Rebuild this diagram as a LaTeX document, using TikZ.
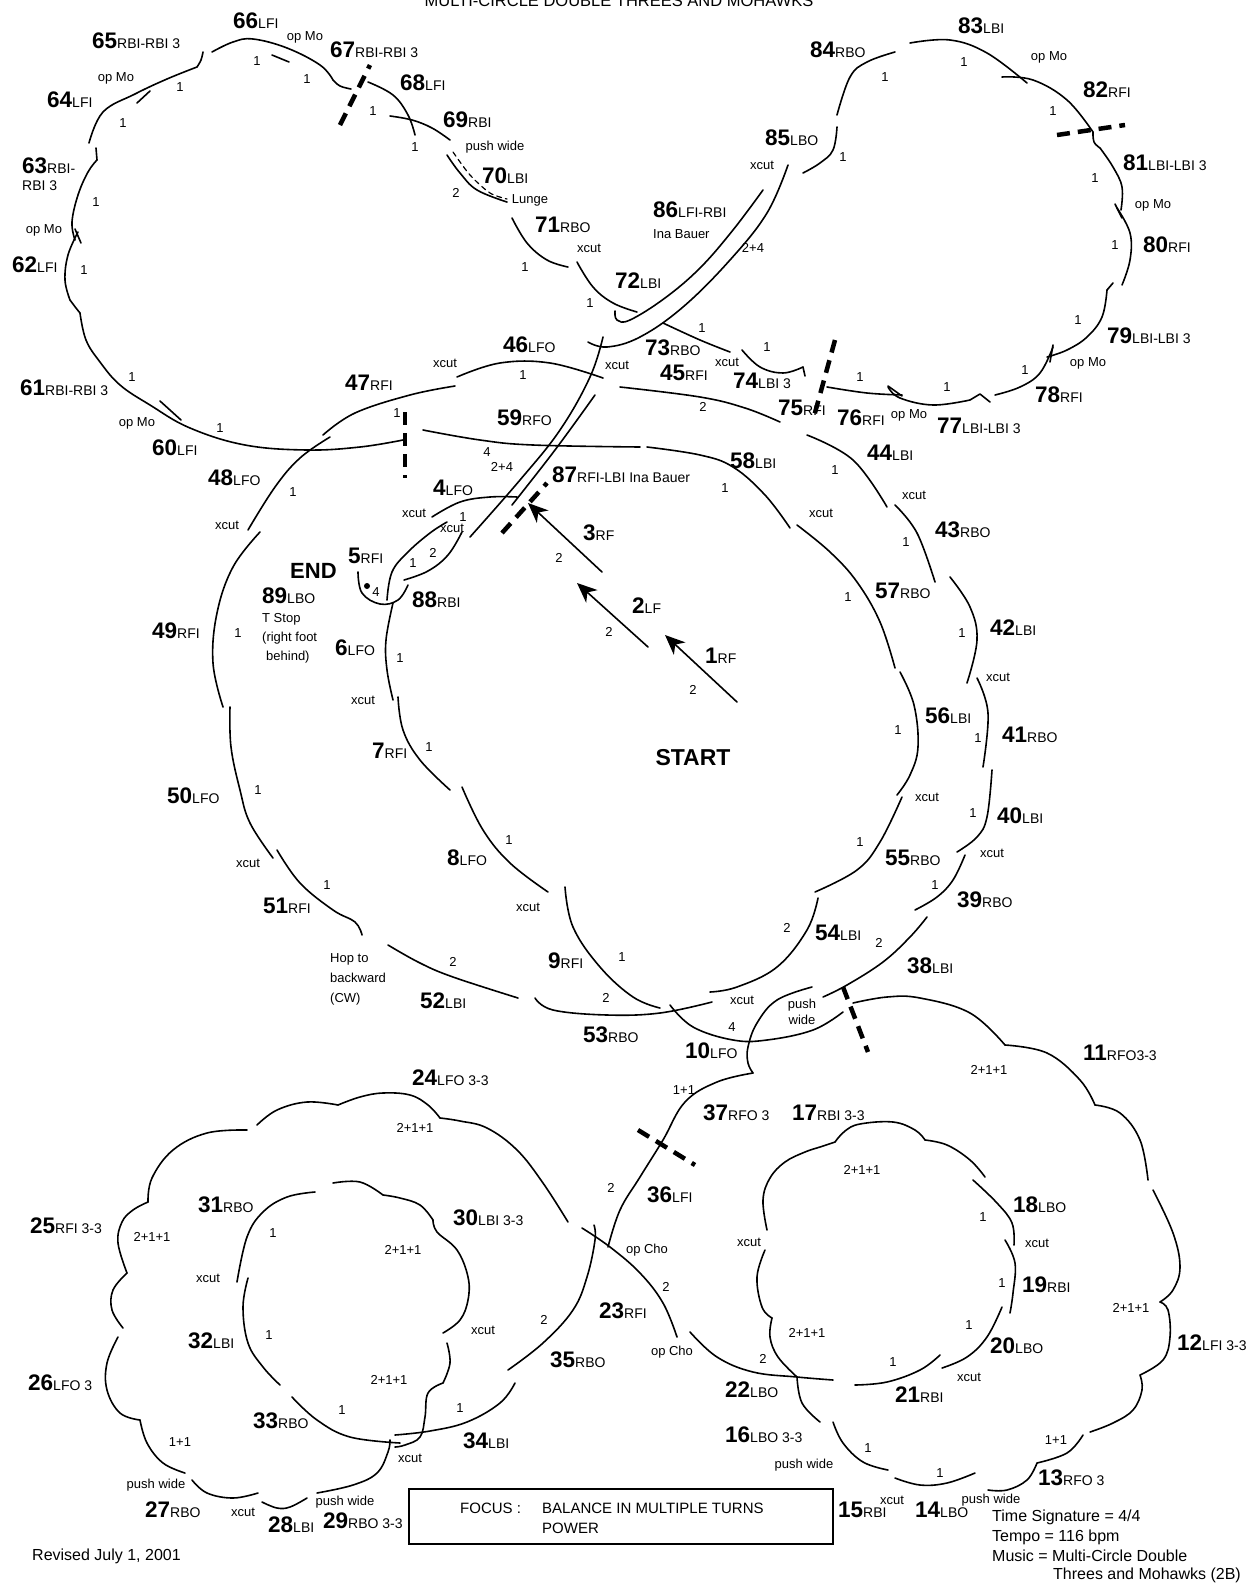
\documentclass[tikz,border=0pt]{standalone}
\usepackage{fontspec}
\setmainfont{Liberation Sans}
\usetikzlibrary{arrows.meta}
\tikzset{
  skate/.style={line width=1.6pt, line cap=round, line join=round},
  turnbar/.style={line width=4.5pt, dash pattern=on 13pt off 8pt},
  lab/.style={anchor=base west, inner sep=0pt},
  sm/.style={font=\fontsize{13}{13}\selectfont, inner sep=0pt},
  txt/.style={anchor=west, inner sep=0pt, font=\fontsize{16}{16}\selectfont},
  arr/.style={skate, -{Stealth[length=20pt,width=17pt,inset=6pt]}},
}
\newcounter{smc}
\newcommand\smt[2]{\stepcounter{smc}\node[sm] (s\arabic{smc}) at (#1) {#2};}
\newcommand\lbl[4]{\node[lab] (n#1) at (#2,#3) {{\fontsize{22.5}{24}\selectfont\bfseries #1}{\fontsize{14}{14}\selectfont #4}};}
\newcommand\crv[1]{\draw[skate] plot[smooth,tension=0.65] coordinates {#1};}
\begin{document}
\begin{tikzpicture}[x=1pt,y=-1pt]
\useasboundingbox (0,0) rectangle (1251,1585);
\node[anchor=base, inner sep=0pt, font=\fontsize{16.5}{16.5}\selectfont] (title) at (619,6) {MULTI-CIRCLE DOUBLE THREES AND MOHAWKS};

% ---------- top-left cloud ----------
\crv{(89,143) (103,112) (135,94) (167,79) (197,67)}
\crv{(197,67) (201,60) (203,52)}
\crv{(212,52) (233,42) (253,39) (287,48) (320,65) (333,80)}
\crv{(333,80) (340,86) (351,89)}
\draw[skate] (137,103) -- (150,91);
\draw[skate] (272,55) -- (289,62);
\crv{(368,82) (393,95) (408,115) (415,135)}
\crv{(390,116) (412,120) (432,128) (450,140)}
\crv{(96,148) (97,160)}
\crv{(97,160) (88,172) (78,195) (72,222) (75,240)}
\draw[skate] (75,229) -- (81,243);
\crv{(78,232) (68,255) (65,280) (70,300)}
\crv{(70,300) (76,308) (80,313)}
\crv{(80,313) (86,340) (100,362) (120,385) (150,405) (190,428) (245,445) (307,450) (360,447) (403,440)}
\draw[skate] (160,401) -- (181,420);
% 70 - 72
\crv{(447,155) (460,173) (477,190) (507,202)}
\draw[skate, line width=1.2pt, dash pattern=on 5pt off 4pt] plot[smooth] coordinates {(453,152) (470,175) (490,193) (507,199)};
\crv{(512,218) (527,243) (547,260) (568,267)}
\crv{(577,262) (593,287) (613,303) (637,312)}
% Ina Bauer lines
\crv{(615,311) (617,320) (630,320) (665,298) (700,268) (733,230) (763,190)}
\crv{(788,165) (767,213) (730,260) (683,307) (640,337) (607,347) (588,342)}
\crv{(603,337) (590,377) (560,430) (520,480) (470,537)}
\crv{(595,395) (555,450) (512,505)}
% 46, 73, 74, 45, 47
\crv{(457,377) (500,363) (550,363) (603,378)}
\crv{(663,323) (700,340) (730,352)}
\crv{(742,350) (760,367) (783,373) (803,367)}
\draw[skate] (803,367) -- (805,376);
\crv{(620,387) (700,397) (745,408) (780,422)}
\crv{(323,435) (355,413) (410,395) (455,386)}
\crv{(423,430) (480,440) (533,445) (640,447)}

% ---------- top-right cloud ----------
\crv{(837,127) (833,150) (820,163) (803,173)}
\crv{(837,115) (850,77) (867,62) (895,52)}
\crv{(910,43) (950,40) (987,53) (1027,83)}
\crv{(1002,77) (1033,80) (1067,100) (1093,132)}
\crv{(1093,132) (1094,142) (1100,148)}
\crv{(1100,148) (1113,167) (1122,187) (1121,210)}
\draw[skate] (1115,204) -- (1122,218);
\crv{(1117,208) (1130,233) (1130,260) (1122,285)}
\draw[skate] (1113,283) -- (1107,290);
\crv{(1107,290) (1102,317) (1087,337) (1067,350) (1047,357)}
\draw[skate] (1053,345) -- (1050,362);
\crv{(1053,347) (1040,373) (1020,387) (995,395)}
\draw[skate] (990,402) -- (980,394) -- (970,400);
\crv{(970,400) (933,405) (900,398) (888,387)}
\draw[skate] (888,386) -- (902,396);
\crv{(827,387) (867,393) (902,395)}

% ---------- main circles ----------
\crv{(647,447) (700,455) (733,467) (765,495) (790,528)}
\crv{(797,525) (830,552) (857,582) (880,622) (895,668)}
\crv{(900,672) (914,705) (918,747) (910,775) (897,795)}
\crv{(902,797) (880,842) (857,870) (815,892)}
\crv{(818,898) (807,930) (777,967) (737,987) (710,992)}
\crv{(807,435) (853,460) (887,507)}
\crv{(895,505) (917,533) (935,582)}
\crv{(950,577) (970,607) (977,640) (967,683)}
\crv{(977,678) (988,713) (983,767)}
\crv{(992,770) (987,817) (977,837) (957,852)}
\crv{(965,855) (953,880) (937,897) (915,910)}
\crv{(927,917) (910,937) (883,962) (847,985) (823,997)}
\crv{(330,437) (300,458) (275,487) (248,530)}
\crv{(260,532) (233,567) (217,613) (213,663) (223,707)}
\crv{(230,707) (231,747) (240,790) (250,823) (273,858)}
\crv{(277,850) (300,883) (333,910) (355,922) (362,935)}
\crv{(388,945) (420,963) (453,977) (518,998)}
\crv{(535,998) (553,1010) (607,1015) (660,1013) (712,1002)}
\crv{(432,517) (460,502) (490,497) (517,497)}
\crv{(387,600) (392,572) (408,552) (430,533) (447,522)}
\crv{(404,580) (428,571) (448,555) (462,532)}
\crv{(358,572) (362,593) (380,604) (398,600) (408,585)}
\fill (367,586) circle (3pt);
\crv{(393,603) (386,640) (387,670) (393,700)}
\crv{(398,697) (403,730) (420,760) (450,790)}
\crv{(462,787) (483,830) (510,863) (548,892)}
\crv{(565,887) (573,927) (600,967) (633,997) (660,1008)}
\crv{(670,1005) (693,1027) (733,1040) (767,1040) (813,1030) (843,1012)}
\crv{(812,987) (777,1000) (757,1023) (748,1047) (748,1063) (753,1073)}
\crv{(753,1073) (717,1082) (685,1102) (663,1140) (640,1177) (620,1210) (608,1247)}

% arrows
\coordinate (a1s) at (737,702); \coordinate (a1e) at (665,635);
\coordinate (a2s) at (648,647); \coordinate (a2e) at (577,583);
\coordinate (a3s) at (602,572); \coordinate (a3e) at (528,503);
\draw[arr] (a1s) -- (a1e);
\draw[arr] (a2s) -- (a2e);
\draw[arr] (a3s) -- (a3e);

% ---------- bottom-right cloud ----------
\crv{(853,1003) (887,997) (920,998) (970,1013) (1005,1045)}
\crv{(1005,1045) (1047,1053) (1080,1080) (1095,1105)}
\crv{(1095,1105) (1120,1113) (1140,1140) (1148,1180)}
\crv{(1153,1190) (1173,1233) (1180,1267) (1173,1290) (1160,1302)}
\crv{(1160,1302) (1168,1310) (1170,1337) (1163,1360) (1140,1375)}
\crv{(1140,1375) (1142,1390) (1133,1410) (1113,1423) (1090,1432)}
\crv{(1083,1435) (1067,1453) (1037,1463)}
\crv{(1037,1463) (1027,1480) (1007,1490) (988,1490)}
\crv{(895,1478) (920,1485) (947,1483) (975,1473)}
\crv{(833,1422) (843,1443) (863,1462) (888,1470)}
\crv{(797,1377) (802,1403) (820,1422)}
\crv{(690,1332) (717,1357) (753,1372) (797,1377) (833,1380)}
\crv{(582,1228) (610,1247) (640,1273) (663,1303) (677,1337)}
\crv{(767,1230) (763,1200) (770,1178) (785,1162) (805,1152) (820,1147) (835,1142)}
\crv{(835,1142) (845,1131) (860,1124) (893,1122) (915,1130) (925,1140)}
\crv{(925,1140) (947,1145) (970,1160) (985,1177)}
\crv{(973,1180) (997,1203) (1012,1223) (1014,1245)}
\crv{(1005,1240) (1015,1263) (1013,1293) (1010,1313)}
\crv{(1002,1307) (987,1337) (967,1357) (942,1368)}
\crv{(940,1355) (920,1370) (887,1382) (855,1385)}
\crv{(765,1250) (757,1277) (762,1307) (772,1318)}
\crv{(772,1318) (770,1337) (778,1357) (797,1377)}

% ---------- bottom-left cloud ----------
\crv{(123,1328) (112,1310) (113,1290) (127,1273)}
\crv{(127,1273) (118,1243) (122,1222) (133,1210) (148,1202)}
\crv{(148,1202) (152,1178) (173,1150) (207,1133) (247,1130)}
\crv{(257,1125) (277,1110) (307,1102) (338,1105)}
\crv{(338,1105) (360,1097) (383,1093) (410,1095) (428,1105) (440,1118)}
\crv{(440,1118) (460,1121) (487,1128) (517,1150) (543,1183) (568,1222)}
\crv{(118,1337) (107,1363) (107,1390) (120,1413) (140,1420)}
\crv{(140,1420) (147,1443) (163,1463) (185,1473)}
\crv{(192,1480) (207,1493) (233,1498) (258,1493)}
\crv{(262,1502) (277,1508) (290,1507) (307,1498)}
\crv{(317,1493) (353,1485) (377,1473) (388,1452) (390,1440)}
\crv{(395,1435) (430,1431) (467,1422) (500,1403) (515,1383)}
\crv{(508,1370) (543,1343) (573,1310) (587,1277) (595,1240) (594,1225)}
\crv{(315,1192) (287,1197) (263,1212) (247,1237) (237,1282)}
\crv{(248,1278) (243,1307) (248,1343) (263,1367) (280,1385)}
\crv{(292,1397) (317,1420) (350,1437) (400,1443)}
\crv{(333,1183) (360,1182) (383,1195)}
\crv{(383,1195) (400,1198) (420,1205) (433,1220)}
\crv{(433,1220) (437,1232) (457,1250) (468,1277) (468,1300) (460,1320) (443,1333)}
\crv{(447,1343) (450,1363) (443,1383)}
\crv{(443,1383) (428,1393) (425,1417) (420,1437) (405,1445) (395,1447)}

% ---------- turn bars ----------
\draw[turnbar] (340,125) -- (370,65);
\draw[turnbar] (1057,135) -- (1125,125);
\draw[turnbar] (835,340) -- (813,420);
\draw[turnbar] (405,412) -- (405,478);
\draw[turnbar] (502,533) -- (547,483);
\draw[turnbar] (843,987) -- (868,1052);
\draw[turnbar] (638,1130) -- (695,1165);

% ---------- step labels ----------
\lbl{66}{233}{28}{LFI}
\lbl{67}{330}{57}{RBI-RBI 3}
\lbl{65}{92}{48}{RBI-RBI 3}
\lbl{64}{47}{107}{LFI}
\lbl{63}{22}{173}{RBI-}
\node[lab, font=\fontsize{14}{14}\selectfont] (n63b) at (22,190) {RBI 3};
\lbl{62}{12}{272}{LFI}
\lbl{61}{20}{395}{RBI-RBI 3}
\lbl{68}{400}{90}{LFI}
\lbl{69}{443}{127}{RBI}
\lbl{70}{482}{183}{LBI}
\lbl{71}{535}{232}{RBO}
\lbl{72}{615}{288}{LBI}
\lbl{86}{653}{217}{LFI-RBI}
\node[lab, font=\fontsize{13}{13}\selectfont] (ina86) at (653,238) {Ina Bauer};
\lbl{85}{765}{145}{LBO}
\lbl{84}{810}{57}{RBO}
\lbl{83}{958}{33}{LBI}
\lbl{82}{1083}{97}{RFI}
\lbl{81}{1123}{170}{LBI-LBI 3}
\lbl{80}{1143}{252}{RFI}
\lbl{79}{1107}{343}{LBI-LBI 3}
\lbl{78}{1035}{402}{RFI}
\lbl{77}{937}{433}{LBI-LBI 3}
\lbl{76}{837}{425}{RFI}
\lbl{75}{778}{415}{RFI}
\lbl{74}{733}{388}{LBI 3}
\lbl{73}{645}{355}{RBO}
\lbl{46}{503}{352}{LFO}
\lbl{45}{660}{380}{RFI}
\lbl{47}{345}{390}{RFI}
\lbl{60}{152}{455}{LFI}
\lbl{59}{497}{425}{RFO}
\lbl{87}{552}{482}{RFI-LBI Ina Bauer}
\lbl{58}{730}{468}{LBI}
\lbl{44}{867}{460}{LBI}
\lbl{43}{935}{537}{RBO}
\lbl{57}{875}{598}{RBO}
\lbl{42}{990}{635}{LBI}
\lbl{56}{925}{723}{LBI}
\lbl{41}{1002}{742}{RBO}
\lbl{40}{997}{823}{LBI}
\lbl{55}{885}{865}{RBO}
\lbl{39}{957}{907}{RBO}
\lbl{54}{815}{940}{LBI}
\lbl{38}{907}{973}{LBI}
\lbl{48}{208}{485}{LFO}
\lbl{4}{433}{495}{LFO}
\lbl{3}{583}{540}{RF}
\lbl{5}{348}{563}{RFI}
\node[lab, font=\fontsize{22}{22}\selectfont\bfseries] (endlbl) at (290,578) {END};
\lbl{89}{262}{603}{LBO}
\node[lab, font=\fontsize{13}{13}\selectfont, align=left] (tstop1) at (262,622) {T Stop};
\node[lab, font=\fontsize{13}{13}\selectfont] (tstop2) at (262,641) {(right foot};
\node[lab, font=\fontsize{13}{13}\selectfont] (tstop3) at (266,660) {behind)};
\lbl{88}{412}{607}{RBI}
\lbl{2}{632}{613}{LF}
\lbl{49}{152}{638}{RFI}
\lbl{6}{335}{655}{LFO}
\lbl{1}{705}{663}{RF}
\node[anchor=base, inner sep=0pt, font=\fontsize{23}{23}\selectfont\bfseries] (start) at (693,765) {START};
\lbl{7}{372}{758}{RFI}
\lbl{50}{167}{803}{LFO}
\lbl{8}{447}{865}{LFO}
\lbl{51}{263}{913}{RFI}
\lbl{9}{548}{968}{RFI}
\lbl{52}{420}{1008}{LBI}
\lbl{53}{583}{1042}{RBO}
\lbl{10}{685}{1058}{LFO}
\lbl{11}{1083}{1060}{RFO3-3}
\lbl{24}{412}{1085}{LFO 3-3}
\lbl{37}{703}{1120}{RFO 3}
\lbl{17}{792}{1120}{RBI 3-3}
\lbl{36}{647}{1202}{LFI}
\lbl{18}{1013}{1212}{LBO}
\lbl{31}{198}{1212}{RBO}
\lbl{30}{453}{1225}{LBI 3-3}
\lbl{25}{30}{1233}{RFI 3-3}
\lbl{19}{1022}{1292}{RBI}
\lbl{23}{599}{1318}{RFI}
\lbl{32}{188}{1348}{LBI}
\lbl{12}{1177}{1350}{LFI 3-3}
\lbl{20}{990}{1353}{LBO}
\lbl{35}{550}{1367}{RBO}
\lbl{26}{28}{1390}{LFO 3}
\lbl{22}{725}{1397}{LBO}
\lbl{21}{895}{1402}{RBI}
\lbl{33}{253}{1428}{RBO}
\lbl{16}{725}{1442}{LBO 3-3}
\lbl{34}{463}{1448}{LBI}
\lbl{13}{1038}{1485}{RFO 3}
\lbl{15}{838}{1517}{RBI}
\lbl{14}{915}{1517}{LBO}
\lbl{27}{145}{1517}{RBO}
\lbl{28}{268}{1532}{LBI}
\lbl{29}{323}{1528}{RBO 3-3}

% ---------- small texts ----------
\smt{180,87}{1} \smt{257,61}{1} \smt{307,79}{1} \smt{373,111}{1} \smt{415,147}{1}
\smt{305,37}{op Mo} \smt{116,78}{op Mo} \smt{123,123}{1} \smt{96,202}{1}
\smt{44,230}{op Mo} \smt{84,270}{1} \smt{132,377}{1} \smt{137,423}{op Mo} \smt{220,428}{1}
\smt{495,147}{push wide} \smt{456,193}{2} \smt{530,200}{Lunge} \smt{589,248}{xcut}
\smt{525,267}{1} \smt{590,303}{1} \smt{753,248}{2+4} \smt{762,165}{xcut}
\smt{702,328}{1} \smt{445,363}{xcut} \smt{523,375}{1} \smt{617,365}{xcut}
\smt{727,362}{xcut} \smt{767,347}{1} \smt{703,407}{2}
\smt{885,77}{1} \smt{964,62}{1} \smt{1049,57}{op Mo} \smt{1053,111}{1}
\smt{1095,178}{1} \smt{1153,205}{op Mo} \smt{1115,245}{1} \smt{1078,320}{1}
\smt{1088,363}{op Mo} \smt{1025,370}{1} \smt{947,387}{1} \smt{860,377}{1}
\smt{909,415}{op Mo} \smt{843,157}{1}
\smt{397,413}{1} \smt{293,492}{1} \smt{227,525}{xcut} \smt{487,452}{4} \smt{502,467}{2+4}
\smt{414,513}{xcut} \smt{463,517}{1} \smt{452,528}{xcut} \smt{433,553}{2} \smt{413,563}{1}
\smt{376,592}{4} \smt{725,488}{1} \smt{835,470}{1} \smt{821,513}{xcut} \smt{914,495}{xcut}
\smt{906,542}{1} \smt{848,597}{1} \smt{962,633}{1} \smt{998,677}{xcut} \smt{898,730}{1}
\smt{978,738}{1} \smt{927,797}{xcut} \smt{973,813}{1} \smt{992,853}{xcut}
\smt{860,842}{1} \smt{935,885}{1} \smt{879,943}{2} \smt{787,928}{2}
\smt{559,558}{2} \smt{609,632}{2} \smt{693,690}{2}
\smt{238,633}{1} \smt{400,658}{1} \smt{363,700}{xcut} \smt{429,747}{1}
\smt{258,790}{1} \smt{248,863}{xcut} \smt{327,885}{1} \smt{509,840}{1} \smt{528,907}{xcut}
\smt{622,957}{1} \smt{453,962}{2} \smt{606,998}{2} \smt{742,1000}{xcut} \smt{732,1027}{4}
\smt{802,1005}{push} \smt{802,1020}{wide} \smt{684,1090}{1+1}
\node[lab, font=\fontsize{13}{13}\selectfont] (hop1) at (330,962) {Hop to};
\node[lab, font=\fontsize{13}{13}\selectfont] (hop2) at (330,982) {backward};
\node[lab, font=\fontsize{13}{13}\selectfont] (hop3) at (330,1002) {(CW)};
\smt{989,1070}{2+1+1} \smt{862,1170}{2+1+1} \smt{983,1217}{1} \smt{1037,1243}{xcut}
\smt{1002,1283}{1} \smt{969,1325}{1} \smt{969,1377}{xcut} \smt{893,1362}{1}
\smt{1131,1308}{2+1+1} \smt{1056,1440}{1+1} \smt{868,1448}{1} \smt{940,1473}{1}
\smt{804,1465}{push wide} \smt{892,1500}{xcut} \smt{991,1500}{push wide}
\smt{749,1242}{xcut} \smt{807,1333}{2+1+1} \smt{763,1359}{2} \smt{672,1352}{op Cho}
\smt{666,1287}{2} \smt{647,1250}{op Cho} \smt{611,1188}{2} \smt{544,1320}{2}
\smt{460,1408}{1} \smt{483,1330}{xcut} \smt{410,1458}{xcut} \smt{415,1128}{2+1+1}
\smt{403,1250}{2+1+1} \smt{389,1380}{2+1+1} \smt{273,1233}{1} \smt{208,1278}{xcut}
\smt{269,1335}{1} \smt{342,1410}{1} \smt{152,1237}{2+1+1} \smt{180,1442}{1+1}
\smt{156,1485}{push wide} \smt{243,1512}{xcut} \smt{345,1502}{push wide}

% ---------- focus box and notes ----------
\node[draw, line width=1.5pt, minimum width=424pt, minimum height=55pt, anchor=north west, inner sep=0pt] (focus) at (408,1488) {};
\node[txt, font=\fontsize{15}{15}\selectfont] (focus1) at (460,1508) {FOCUS :};
\node[txt, font=\fontsize{15}{15}\selectfont] (focus2) at (542,1508) {BALANCE IN MULTIPLE TURNS};
\node[txt, font=\fontsize{15}{15}\selectfont] (focus3) at (542,1528) {POWER};
\node[txt] (ts1) at (992,1517) {Time Signature = 4/4};
\node[txt] (ts2) at (992,1537) {Tempo = 116 bpm};
\node[txt] (ts3) at (992,1556) {Music = Multi-Circle Double};
\node[txt] (ts4) at (1053,1575) {Threes and Mohawks (2B)};
\node[txt] (rev) at (32,1556) {Revised July 1, 2001};
\end{tikzpicture}
\end{document}
